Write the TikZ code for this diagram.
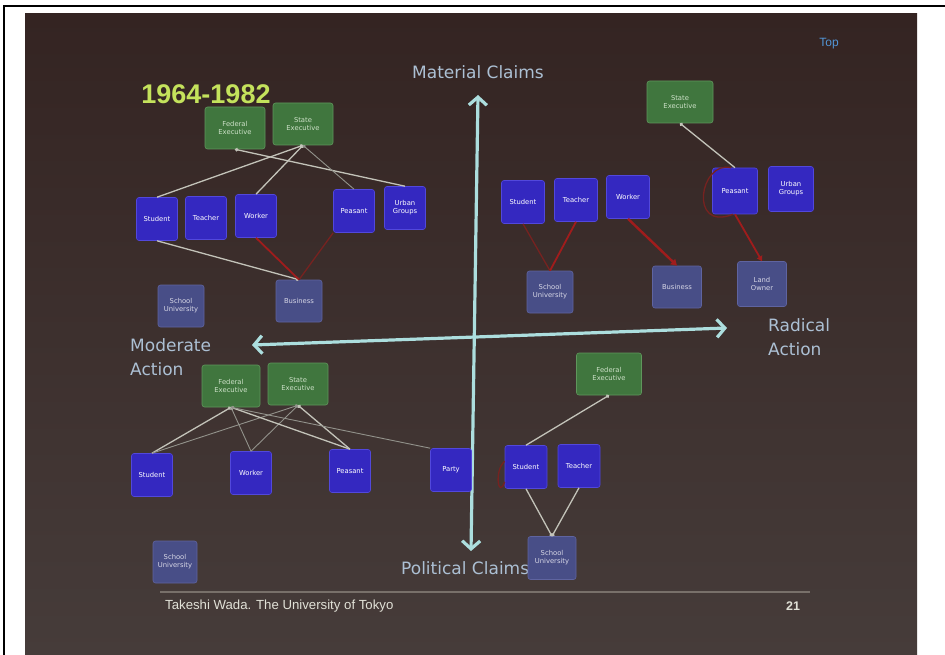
\documentclass[tikz,border=0pt]{standalone}
\usepackage{fontspec}
\setmainfont{DejaVu Sans}
\newfontfamily\arialish{Liberation Sans}
\usetikzlibrary{arrows.meta}
\definecolor{slideT}{RGB}{52,36,34}
\definecolor{slideB}{RGB}{70,60,58}
\definecolor{gfill}{RGB}{64,118,62}
\definecolor{gline}{RGB}{95,150,92}
\definecolor{gtext}{RGB}{205,225,200}
\definecolor{bfill}{RGB}{52,40,192}
\definecolor{bline}{RGB}{82,72,220}
\definecolor{tfill}{RGB}{72,78,135}
\definecolor{tline}{RGB}{95,100,160}
\definecolor{ttext}{RGB}{215,215,230}
\definecolor{linegray}{RGB}{195,195,185}
\definecolor{redline}{RGB}{160,28,28}
\definecolor{redfaint}{RGB}{118,34,32}
\definecolor{axiscol}{RGB}{172,222,222}
\definecolor{labcol}{RGB}{172,192,212}
\definecolor{yearcol}{RGB}{196,226,92}
\definecolor{topcol}{RGB}{82,150,215}
\definecolor{footcol}{RGB}{225,225,215}
\definecolor{footline}{RGB}{120,112,106}
\tikzset{
  box/.style={rounded corners=2.5pt, draw, line width=0.6pt, align=center, inner sep=1pt,
    font=\fontsize{6.8}{7.8}\selectfont},
  exe/.style={box, fill=gfill, draw=gline, text=gtext, minimum width=60pt, minimum height=42pt},
  act/.style={box, fill=bfill, draw=bline, text=white, minimum width=41pt, minimum height=43pt},
  tgt/.style={box, fill=tfill, draw=tline, text=ttext, minimum width=46pt, minimum height=42pt},
  gl/.style={draw=linegray, line width=1.3pt, -{Circle[length=3.4pt]}},
  glthin/.style={draw=linegray!75!black, line width=0.9pt, -{Circle[length=3.2pt]}},
  rl/.style={draw=redline, line width=1.8pt},
  rlf/.style={draw=redfaint, line width=1.3pt},
  axis/.style={draw=axiscol, line width=3.2pt, {Straight Barb[length=8pt,width=18pt]}-{Straight Barb[length=8pt,width=18pt]}},
  lab/.style={text=labcol, font=\fontsize{17}{24}\selectfont, inner sep=0pt},
}
\begin{document}
\begin{tikzpicture}[x=1pt,y=-1pt]
\useasboundingbox (0,0) rectangle (945,655);
\fill[white] (0,0) rectangle (945,655);
\draw[black, line width=1.2pt] (4,655) -- (4,6) -- (945,6);
\shade[top color=slideT, bottom color=slideB] (25,14) rectangle (917,655);

% labels
\node[font=\arialish\bfseries\fontsize{27}{30}\selectfont, text=yearcol, inner sep=0pt] (year) at (206,94) {1964-1982};
\node[font=\arialish\fontsize{12}{14}\selectfont, text=topcol, inner sep=0pt] (top) at (829,44) {Top};
\node[lab] (tMat) at (478,72) {Material Claims};
\node[lab, anchor=west] (tPol) at (401,568) {Political Claims};
\node[lab, anchor=west, align=left] (tMod) at (130,357) {Moderate\\Action};
\node[lab, anchor=west, align=left] (tRad) at (768,337) {Radical\\Action};

% axes
\coordinate (mT) at (478,95);
\coordinate (mB) at (471,551);
\coordinate (hL) at (252,345);
\coordinate (hR) at (727,328);
\draw[axis] (mT) -- (mB);
\draw[axis] (hL) -- (hR);

% footer
\coordinate (fL) at (160,592);
\coordinate (fR) at (810,592);
\draw[footline, line width=1.4pt] (fL) -- (fR);
\node[font=\arialish\fontsize{13.2}{15}\selectfont, text=footcol, anchor=west, inner sep=0pt] (foot) at (165,606) {Takeshi Wada. The University of Tokyo};
\node[font=\arialish\bfseries\fontsize{12.5}{14}\selectfont, text=footcol, inner sep=0pt] (pg) at (793,606) {21};

% ---- top-left quadrant
\node[exe] (aFE) at (235,128) {Federal\\Executive};
\node[exe] (aSE) at (303,124) {State\\Executive};
\node[act] (aSt) at (157,219) {Student};
\node[act] (aTe) at (206,218) {Teacher};
\node[act] (aWo) at (256,216) {Worker};
\node[act] (aPe) at (354,211) {Peasant};
\node[act] (aUG) at (405,208) {Urban\\Groups};
\node[tgt] (aSU) at (181,306) {School\\University};
\node[tgt] (aBu) at (299,301) {Business};
\draw[gl] (aUG.north) -- (aFE.south);
\draw[gl] (aSt.north) -- (aSE.south);
\draw[gl] (aWo.north) -- (aSE.south);
\draw[glthin] (aPe.north) -- (aSE.south);
\draw[gl] (aSt.south) -- (aBu.north);
\draw[rl] (aWo.south) -- (aBu.north);
\draw[rlf] (aPe.south west) -- (aBu.north);

% ---- top-right quadrant
\node[exe, minimum width=66pt] (bSE) at (680,102) {State\\Executive};
\node[act, minimum width=43pt] (bSt) at (523,202) {Student};
\node[act, minimum width=43pt] (bTe) at (576,200) {Teacher};
\node[act, minimum width=43pt] (bWo) at (628,197) {Worker};
\node[act, minimum width=45pt, minimum height=46pt] (bPe) at (735,191) {Peasant};
\node[act, minimum width=45pt, minimum height=45pt] (bUG) at (791,189) {Urban\\Groups};
\node[tgt] (bSU) at (550,292) {School\\University};
\node[tgt, minimum width=49pt] (bBu) at (677,287) {Business};
\node[tgt, minimum width=49pt, minimum height=45pt] (bLO) at (762,284) {Land\\Owner};
\draw[gl] (bPe.north) -- (bSE.south);
\draw[rlf] (bSt.south) -- (bSU.north);
\draw[rl] (bTe.south) -- (bSU.north);
\draw[rl, line width=2.4pt, -{Triangle[length=6pt,width=7pt]}] (bWo.south) -- (bBu.north);
\draw[rl, -{Triangle[length=5pt,width=6pt]}] (bPe.south) -- (bLO.north);
\draw[rlf] (bPe.100) .. controls (700,160) and (688,232) .. (bPe.265);

% ---- bottom-left quadrant
\node[exe, minimum width=58pt] (cFE) at (231,386) {Federal\\Executive};
\node[exe] (cSE) at (298,384) {State\\Executive};
\node[act] (cSt) at (152,475) {Student};
\node[act] (cWo) at (251,473) {Worker};
\node[act] (cPe) at (350,471) {Peasant};
\node[act] (cPa) at (451,470) {Party};
\node[tgt, minimum width=44pt] (cSU) at (175,562) {School\\University};
\draw[gl] (cSt.north) -- (cFE.south);
\draw[glthin] (cSt.north) -- (cSE.south);
\draw[glthin] (cWo.north) -- (cFE.south);
\draw[glthin] (cWo.north) -- (cSE.south);
\draw[gl] (cPe.north) -- (cFE.south);
\draw[gl] (cPe.north) -- (cSE.south);
\draw[glthin] (cPa.north west) -- (cFE.south);

% ---- bottom-right quadrant
\node[exe, minimum width=65pt] (dFE) at (609,374) {Federal\\Executive};
\node[act, minimum width=42pt] (dSt) at (526,467) {Student};
\node[act, minimum width=42pt] (dTe) at (579,466) {Teacher};
\node[tgt, minimum width=48pt, minimum height=43pt] (dSU) at (552,558) {School\\University};
\draw[gl] (dSt.north) -- (dFE.south);
\draw[gl] (dSt.south) -- (dSU.north);
\draw[gl] (dTe.south) -- (dSU.north);
\draw[rlf] (dSt.165) .. controls (494,470) and (498,500) .. (dSt.215);
\end{tikzpicture}
\end{document}
